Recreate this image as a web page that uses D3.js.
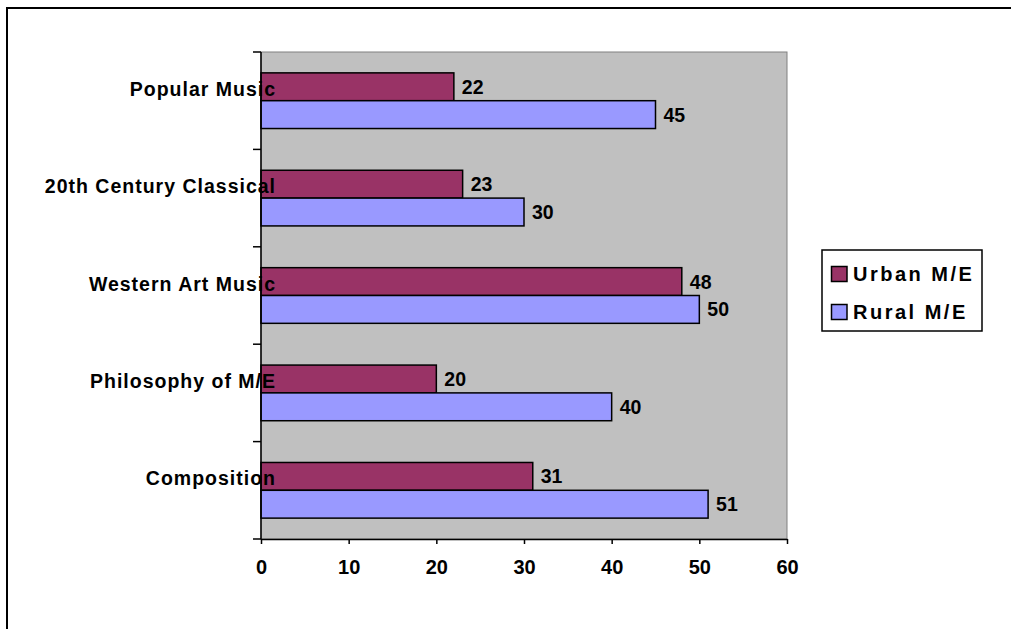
<!DOCTYPE html>
<html><head><meta charset="utf-8">
<script src="https://cdn.jsdelivr.net/npm/d3@7"></script>
<style>
html,body{margin:0;padding:0;background:#fff;}
svg{display:block;font-family:Arial,"Liberation Sans",sans-serif;font-weight:bold;}
</style></head>
<body>
<svg id="chart" width="1011" height="629"></svg>
<script>
const categories = ["Popular Music","20th Century Classical","Western Art Music","Philosophy of M/E","Composition"];
const seriesNames = ["Urban M/E","Rural M/E"];
const urbanValues = [22,23,48,20,31];
const ruralValues = [45,30,50,40,51];
const xTicks = [0,10,20,30,40,50,60];
const colors = ["#993366","#9999FF"];

const svg = d3.select("#chart");
const plot = {left:261, right:787, top:52, bottom:539};

// outer chart border (top and left visible)
svg.append("path").attr("d","M7,629 L7,8 L1011,8").attr("fill","none").attr("stroke","#000").attr("stroke-width",2);

const x = d3.scaleLinear().domain([0,60]).range([plot.left, plot.right]);
const y = d3.scaleBand().domain(categories).range([plot.top, plot.bottom]).paddingInner(0).paddingOuter(0);

// plot area
svg.append("rect").attr("x",plot.left).attr("y",plot.top)
  .attr("width",plot.right-plot.left).attr("height",plot.bottom-plot.top)
  .attr("fill","#C0C0C0").attr("stroke","#808080").attr("stroke-width",1);

const bw = y.bandwidth();
const barH = bw/3.5;
const data = categories.map((c,i)=>({cat:c, vals:[urbanValues[i], ruralValues[i]]}));

const groups = svg.append("g").selectAll("g").data(data).join("g");
groups.each(function(d){
  const g = d3.select(this);
  const y0 = y(d.cat) + bw/2 - barH;
  d.vals.forEach((v,k)=>{
    g.append("rect").attr("x",x(0)).attr("y",y0+k*barH)
      .attr("width",x(v)-x(0)).attr("height",barH)
      .attr("fill",colors[k]).attr("stroke","#000").attr("stroke-width",1.5);
  });
});

// axes
const yAxisG = svg.append("g").attr("transform",`translate(${plot.left},0)`);
const bounds = categories.map(c=>y(c)).concat([plot.bottom]);
yAxisG.selectAll("line.tk").data(bounds).join("line").attr("class","tk")
  .attr("x1",-8).attr("x2",0).attr("y1",d=>d).attr("y2",d=>d).attr("stroke","#000").attr("stroke-width",1.5);
yAxisG.append("line").attr("x1",0).attr("x2",0).attr("y1",plot.top).attr("y2",plot.bottom).attr("stroke","#000").attr("stroke-width",1.5);

const xAxis = d3.axisBottom(x).tickValues(xTicks).tickSize(5).tickSizeOuter(0).tickPadding(13);
const xg = svg.append("g").attr("transform",`translate(0,${plot.bottom})`).call(xAxis);
xg.select(".domain").attr("stroke","#000").attr("stroke-width",1.5);
xg.selectAll(".tick line").attr("stroke","#000").attr("stroke-width",1.5);
xg.selectAll(".tick text").attr("font-size",20).attr("font-weight","bold")
  .attr("font-family","Arial, 'Liberation Sans', sans-serif").attr("fill","#000").attr("dy","0.85em");

// category labels (drawn over bars, as in reference)
const ls = 1.0;
svg.append("g").selectAll("text").data(categories).join("text")
  .attr("x",275+ls).attr("y",d=>y(d)+bw/2-5)
  .attr("text-anchor","end").attr("font-size",19.5).attr("letter-spacing",ls)
  .attr("fill","#000").text(d=>d);

// value labels
groups.each(function(d){
  const g = d3.select(this);
  const y0 = y(d.cat) + bw/2 - barH;
  d.vals.forEach((v,k)=>{
    g.append("text").attr("x",x(v)+8).attr("y",y0+k*barH+barH/2)
      .attr("dy","0.36em").attr("font-size",19.5).attr("fill","#000").text(v);
  });
});

// legend
const lg = svg.append("g");
lg.append("rect").attr("x",822).attr("y",250).attr("width",160).attr("height",81)
  .attr("fill","#fff").attr("stroke","#000").attr("stroke-width",1.5);
seriesNames.forEach((s,k)=>{
  const cy = 274 + k*38;
  lg.append("rect").attr("x",831.5).attr("y",cy-7.5).attr("width",15.5).attr("height",15)
    .attr("fill",colors[k]).attr("stroke","#000").attr("stroke-width",1.5);
  lg.append("text").attr("x",853).attr("y",cy).attr("dy","0.36em")
    .attr("font-size",20).attr("letter-spacing",2.5).attr("fill","#000").text(s);
});
</script>
</body></html>
